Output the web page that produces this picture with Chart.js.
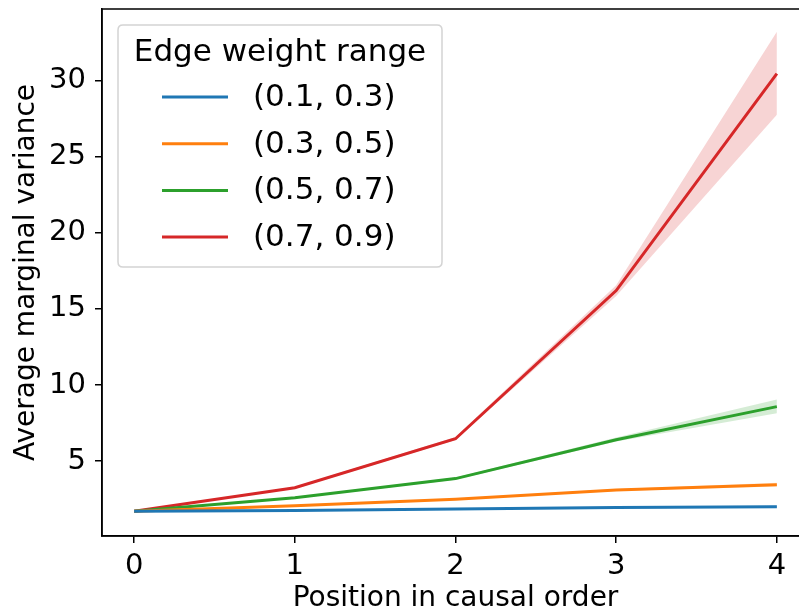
<!DOCTYPE html>
<html>
<head>
<meta charset="utf-8">
<script src="https://cdn.jsdelivr.net/npm/chart.js@4.4.1/dist/chart.umd.min.js"></script>
<style>
  html, body { margin: 0; padding: 0; background: #fff; overflow: hidden; }
  #wrap { width: 799px; height: 613px; overflow: hidden; position: relative; }
  canvas { display: block; }
</style>
</head>
<body>
<div id="wrap"><canvas id="c" width="812" height="616"></canvas></div>
<script>
// ---- data ----
const positions = [0, 1, 2, 3, 4];
const seriesLabels = ['(0.1, 0.3)', '(0.3, 0.5)', '(0.5, 0.7)', '(0.7, 0.9)'];
const blueMean  = [1.70, 1.76, 1.85, 1.95, 2.00];
const blueLow   = [1.70, 1.74, 1.82, 1.91, 1.93];
const blueHigh  = [1.70, 1.78, 1.88, 1.99, 2.08];
const orangeMean = [1.70, 2.07, 2.50, 3.10, 3.45];
const orangeLow  = [1.70, 2.04, 2.45, 3.03, 3.33];
const orangeHigh = [1.70, 2.10, 2.55, 3.17, 3.58];
const greenMean = [1.70, 2.60, 3.85, 6.40, 8.58];
const greenLow  = [1.70, 2.55, 3.78, 6.28, 8.15];
const greenHigh = [1.70, 2.65, 3.92, 6.55, 9.05];
const redMean = [1.70, 3.25, 6.47, 16.20, 30.45];
const redLow  = [1.70, 3.18, 6.38, 15.85, 27.75];
const redHigh = [1.70, 3.32, 6.58, 16.55, 33.20];
const xTicks = [0, 1, 2, 3, 4];
const yTicks = [5, 10, 15, 20, 25, 30];
const xTitle = 'Position in causal order';
const yTitle = 'Average marginal variance';
const legendTitle = 'Edge weight range';

const colors = ['#1f77b4', '#ff7f0e', '#2ca02c', '#d62728'];
const bandColors = ['rgba(31,119,180,0.2)', 'rgba(255,127,14,0.2)', 'rgba(44,160,44,0.2)', 'rgba(214,39,40,0.2)'];
const means = [blueMean, orangeMean, greenMean, redMean];
const lows = [blueLow, orangeLow, greenLow, redLow];
const highs = [blueHigh, orangeHigh, greenHigh, redHigh];

const pts = arr => positions.map((x, i) => ({ x: x, y: arr[i] }));

const datasets = [];
for (let s = 0; s < 4; s++) {
  datasets.push({
    label: 'band-hi-' + s, isBand: true, data: pts(highs[s]),
    borderWidth: 0, pointRadius: 0, backgroundColor: bandColors[s],
    fill: '+1', order: 10
  });
  datasets.push({
    label: 'band-lo-' + s, isBand: true, data: pts(lows[s]),
    borderWidth: 0, pointRadius: 0, backgroundColor: bandColors[s],
    fill: false, order: 10
  });
}
for (let s = 0; s < 4; s++) {
  datasets.push({
    label: seriesLabels[s], data: pts(means[s]),
    borderColor: colors[s], backgroundColor: colors[s],
    borderWidth: 3, pointRadius: 0, fill: false, tension: 0, order: 1
  });
}

const FONT = "'DejaVu Sans', sans-serif";

const frame = {
  id: 'frame',
  afterDatasetsDraw(chart) {
    const { ctx, chartArea: a } = chart;
    ctx.save();
    ctx.strokeStyle = '#000';
    ctx.lineWidth = 1.5;
    ctx.strokeRect(a.left, a.top, a.right - a.left, a.bottom - a.top);
    ctx.restore();
  }
};

const mplLegend = {
  id: 'mplLegend',
  afterDraw(chart) {
    const ctx = chart.ctx;
    const bx = 118, by = 25, bw = 324, bh = 242, r = 5;
    ctx.save();
    ctx.beginPath();
    ctx.moveTo(bx + r, by);
    ctx.lineTo(bx + bw - r, by);
    ctx.quadraticCurveTo(bx + bw, by, bx + bw, by + r);
    ctx.lineTo(bx + bw, by + bh - r);
    ctx.quadraticCurveTo(bx + bw, by + bh, bx + bw - r, by + bh);
    ctx.lineTo(bx + r, by + bh);
    ctx.quadraticCurveTo(bx, by + bh, bx, by + bh - r);
    ctx.lineTo(bx, by + r);
    ctx.quadraticCurveTo(bx, by, bx + r, by);
    ctx.closePath();
    ctx.fillStyle = 'rgba(255,255,255,0.8)';
    ctx.fill();
    ctx.strokeStyle = '#d4d4d4';
    ctx.lineWidth = 1.5;
    ctx.stroke();

    ctx.fillStyle = '#000';
    ctx.textBaseline = 'middle';
    ctx.textAlign = 'center';
    ctx.font = '31px ' + FONT;
    ctx.fillText(legendTitle, bx + bw / 2, 53);

    const items = chart.data.datasets.filter(d => !d.isBand);
    items.forEach((d, i) => {
      const y = 97 + i * 46.7;
      ctx.strokeStyle = d.borderColor;
      ctx.lineWidth = 3;
      ctx.beginPath();
      ctx.moveTo(162, y);
      ctx.lineTo(228, y);
      ctx.stroke();
      ctx.textAlign = 'left';
      ctx.fillStyle = '#000';
      ctx.font = '31px ' + FONT;
      ctx.fillText(d.label, 253, y + 1);
    });
    ctx.restore();
  }
};

new Chart(document.getElementById('c'), {
  type: 'line',
  data: { datasets },
  options: {
    responsive: false,
    animation: false,
    layout: { padding: { left: 0, top: 9, right: 3, bottom: 0 } },
    plugins: { legend: { display: false }, tooltip: { enabled: false } },
    scales: {
      x: {
        type: 'linear', min: -0.2, max: 4.2,
        afterBuildTicks: s => { s.ticks = xTicks.map(v => ({ value: v })); },
        afterFit: s => { s.height = 80; s.paddingLeft = 0; s.paddingRight = 0; },
        ticks: { color: '#000', font: { family: FONT, size: 29 }, padding: 6, maxRotation: 0, autoSkip: false },
        grid: { drawOnChartArea: false, drawTicks: true, tickLength: 7, color: '#000', lineWidth: 1.5 },
        border: { display: true, color: '#000', width: 1.5 },
        title: { display: true, text: xTitle, color: '#000', font: { family: FONT, size: 28 }, padding: { top: 0, bottom: 0 } }
      },
      y: {
        type: 'linear', min: 0.08, max: 34.7,
        afterBuildTicks: s => { s.ticks = yTicks.map(v => ({ value: v })); },
        afterFit: s => { s.width = 102; s.paddingTop = 0; s.paddingBottom = 0; },
        ticks: { color: '#000', font: { family: FONT, size: 29 }, padding: 9, autoSkip: false },
        grid: { drawOnChartArea: false, drawTicks: true, tickLength: 7, color: '#000', lineWidth: 1.5 },
        border: { display: true, color: '#000', width: 1.5 },
        title: { display: true, text: yTitle, color: '#000', font: { family: FONT, size: 28 }, padding: { top: 10, bottom: 0 } }
      }
    }
  },
  plugins: [frame, mplLegend]
});
</script>
</body>
</html>
